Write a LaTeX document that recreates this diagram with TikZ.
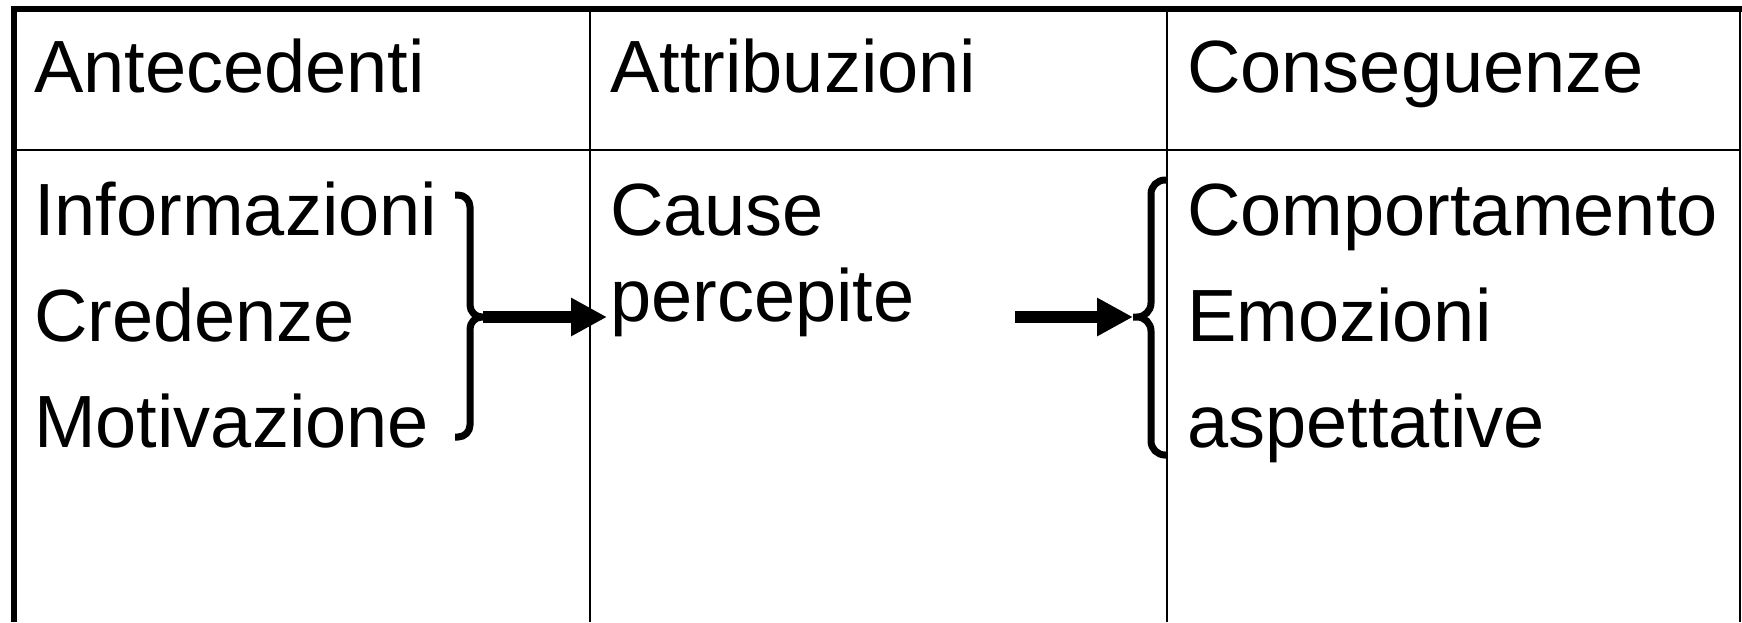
\documentclass[tikz,border=0pt]{standalone}
\usepackage{fontspec}
\setmainfont{Liberation Sans}
\usetikzlibrary{arrows.meta,positioning}

\tikzset{
  cell/.style={anchor=base west, inner sep=0pt, font=\fontsize{74}{80}\selectfont},
  frame/.style={line width=6pt},
  rule/.style={line width=2.5pt},
  curly/.style={line width=7pt, rounded corners=#1},
  curly/.default=12pt,
  flow/.style={line width=12pt, -{Triangle[length=36pt,width=36pt]}}
}

\begin{document}
\begin{tikzpicture}[x=1pt,y=-1pt]
  \useasboundingbox (0,0) rectangle (1742,622);
  % table grid
  \draw[frame] (14,622) -- (14,9) -- (1742,9);
  \draw[rule] (14,150) -- (1740,150);
  \draw[rule] (590,9) -- (590,622);
  \draw[rule] (1167,9) -- (1167,622);
  \draw[rule] (1740,9) -- (1740,622);

  % headers
  \node[cell] (ante) at (34,92) {Antecedenti};
  \node[cell] (attr) at (610,92) {Attribuzioni};
  \node[cell] (cons) at (1187,92) {Conseguenze};

  % first column
  \node[cell] (info) at (34,235) {Informazioni};
  \node[cell] (cred) at (34,341) {Credenze};
  \node[cell] (moti) at (34,447) {Motivazione};

  % second column
  \node[cell] (cause) at (610,235) {Cause};
  \node[cell] (perc) at (610,321) {percepite};

  % third column
  \node[cell] (comp) at (1187,235) {Comportamento};
  \node[cell] (emoz) at (1187,341) {Emozioni};
  \node[cell] (aspe) at (1187,447) {aspettative};

  % braces
  \coordinate (tipA) at (483,317);
  \coordinate (tipB) at (1133,317);
  \coordinate (startB) at (1015,317);
  \draw[curly] (455,195) -- (470,195) -- (470,317) -- (tipA)
               (tipA) -- (470,317) -- (470,437) -- (455,437);
  \draw[curly=14pt] (1166,180) -- (1151,180) -- (1151,317) -- (tipB)
               (tipB) -- (1151,317) -- (1151,455) -- (1166,455);

  % arrows
  \draw[flow, shorten >=3pt] (tipA) -- (tipA -| perc.west);
  \draw[flow] (startB) -- (tipB);
\end{tikzpicture}
\end{document}
